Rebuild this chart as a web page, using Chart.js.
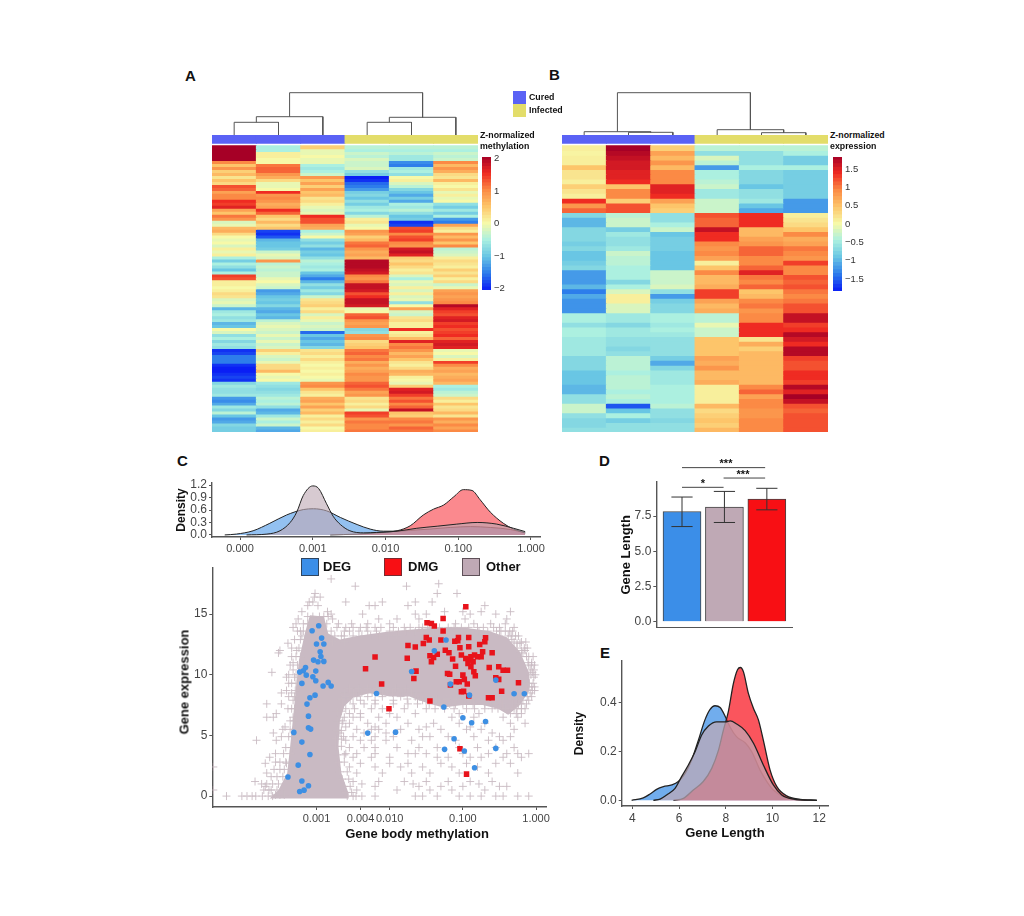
<!DOCTYPE html>
<html>
<head>
<meta charset="utf-8">
<title>Methylation and expression panels</title>
<script src="https://cdn.jsdelivr.net/npm/chart.js@4"></script>
<style>
  body { margin: 0; background: #fff; width: 1024px; height: 916px; position: relative; overflow: hidden;
         font-family: "Liberation Sans", Arial, sans-serif; }
  canvas { position: absolute; }
  .txt { position: absolute; white-space: nowrap; color: #111; font-weight: bold; line-height: 1; }
  .swatch { position: absolute; box-sizing: border-box; }
</style>
</head>
<body>
<script>
// ---- panel A heatmap, one list per column, top row first
const heatA1 = [2,2,2,2,2,1,.5,.9,.4,.6,.2,.5,.3,1.3,1.2,.8,1,1,1.5,1.4,1.6,.8,.5,1.1,.9,-.2,-.1,.6,.7,.3,0,-.1,0,-.2,.1,-.1,.1,-.5,-.9,-.5,-.7,-1,-.5,1.4,1.3,.1,.1,0,.1,.3,.2,-.2,-.1,-.3,-1.1,-.6,-.5,-.7,-.6,-1.1,-1,0,-.2,-.7,-.5,-.8,-.6,-.7,-1.9,-1.8,-1.5,-1.5,-1.5,-1.9,-2,-2,-1.9,-1.8,-1.9,-.8,-.6,-.7,-.7,-.6,-1.3,-1.4,-1.2,-.6,-.8,-.4,-1,-1.3,-1.2,-.8,-.9,-.9];
const heatA2 = [-.5,-.5,.1,.1,0,0,1.1,1.2,1.2,.9,.7,.3,-.1,-.1,0,1.5,.9,1,.9,.7,.8,1.5,1.2,.5,.3,.6,.3,.5,-1.8,-1.9,-1.7,-1.1,-1,-1,-.9,-.3,-.1,-.2,.9,-.4,-.3,-.4,-.3,-.3,-.1,0,-.2,-.3,-1.3,-1.2,-1,-.9,-1,-.8,-1.1,-1.2,-1,-1.1,-.4,-.2,-.1,-.2,-.3,-.1,-.3,-.1,-.3,-.2,.4,.1,-.2,-.3,-.1,.3,.3,.6,0,-.1,0,-.6,-.7,-.8,-.7,-.6,-.4,-.5,-.4,-.7,-1.2,-1.1,-.6,-.3,-.5,-.3,-1.1,-1.2];
const heatA3 = [.4,-.1,-.1,0,-.1,-.1,-.5,-.6,-.5,-.3,.9,.5,.8,.4,.8,.5,.6,.2,.3,.1,-.1,-.2,-.1,1.5,1.3,1.3,.8,.7,-.5,-.3,0,-.7,-.9,-.7,-1.1,-.9,-1,-.7,-.4,-.5,-.6,-.5,-1,-1.2,-1.5,-1.1,-.7,-.9,-.6,-.8,-.3,.2,.3,.4,.1,.3,-.2,.1,-.1,-.3,-.2,-.3,-1.6,-1,-1.2,-1,-1.1,-.8,.2,.3,.1,.3,.1,0,.1,0,.1,0,-.1,.9,1,.5,.2,.1,.7,.8,.5,.8,.4,.6,.1,.3,.1,.3,0,.1];
const heatA4 = [-.4,-.5,-.3,-.4,-.2,-.3,-.3,-.2,-.7,-.9,-2,-1.9,-1.6,-1.5,-1.3,-.9,-.8,-1,-.7,-.9,-.6,-.5,-.8,-.4,.1,.2,-.1,0,.9,.8,.4,.6,1.1,1.2,.9,.7,.8,.6,1.9,1.9,1.9,1.8,1.7,1,.9,1.1,1.8,1.8,1.7,1.3,1.5,1.8,1.8,1.7,-.1,0,1.2,1.3,.9,.8,.9,-.8,-.7,.9,1,.3,.4,.5,1.1,1.2,1,1.1,.7,.9,.7,.8,1,.9,.9,1.2,1.3,1.1,.8,.9,.2,.3,.1,.3,-.1,1.4,1.3,.9,1.1,1,1,1.1];
const heatA5 = [-.4,-.5,-.4,-.6,-.6,-1.4,-1.5,-.6,-.5,-.7,0,.1,-.2,-.4,-.8,-1,-1.2,-.9,-1.2,-.5,-.6,-.4,-.7,-1,-.9,-1.9,-1.8,1.3,1.4,1,1.3,1.4,1,.9,1.7,1.8,1.6,.4,.3,.5,.3,.1,.2,-.2,-.5,-.1,-.2,.1,-.2,.1,-.2,-.1,-.7,0,.8,-.2,-.3,.2,.3,.1,.1,1.5,.1,.2,.6,1.6,1,1.1,.9,.6,.8,.5,.2,.1,.3,.7,.6,.1,0,-.1,.4,1.6,1.7,1.4,1.1,1.3,1,1.2,1.8,.5,.4,1,1.1,.9,1.2,1.1];
const heatA6 = [-.4,-.5,-.3,-.4,-.3,1,.6,.9,.7,.3,.2,.6,.1,0,.2,-.1,.1,-.1,0,-.7,-.9,-.6,-.9,-.5,-1.3,-1.5,.8,.3,.1,.9,.6,.9,.5,1,-.4,-.3,-.2,.1,.3,.2,.1,.4,.2,.4,.1,.3,-.3,-.1,.8,.9,.8,.9,1,1.9,1.6,1.4,1.3,1.6,1.7,1.4,1.5,1.3,1.4,1.5,1.2,1.6,1.7,1.6,-.1,0,-.2,.1,1.4,1,.7,.8,.6,.7,.8,.6,-.5,-.6,-.4,-.3,.3,.1,.5,.2,.3,.6,.2,.9,.7,1,.8,1];

// ---- panel B heatmap
const heatB1 = [.1,.05,.1,.1,.5,.2,.2,.1,.4,.2,.1,1.5,.9,1.2,-.8,-1.1,-1.1,-.8,-.8,-.8,-.9,-.8,-1,-1,-.9,-.8,-1.3,-1.3,-1.3,-1.1,-1.5,-1.2,-1.35,-1.35,-1.35,-.5,-.5,-.7,-.5,-.5,-.6,-.6,-.6,-.6,-.8,-.8,-.8,-1,-1,-1,-1.1,-1.1,-.7,-.7,-.3,-.3,-.7,-.8,-.8,-.7];
const heatB2 = [2,1.9,1.8,1.7,1.7,1.6,1.6,1.5,.5,1,1,.4,1.3,1.3,-.4,-.3,-.3,-.9,-.6,-.7,-.7,-.6,-.3,-.4,-.4,-.5,-.5,-.5,-.8,-.5,-.2,.1,.1,-.2,-.2,-.6,-.6,-.8,-.6,-.6,-.7,-.7,-.8,-.7,-.4,-.4,-.4,-.5,-.4,-.4,-.4,-.5,-.4,-.5,-1.7,-1,-.5,-.9,-.7,-.7];
const heatB3 = [.4,.8,.6,.9,.6,1,1,1,1.6,1.6,1.5,.8,.5,.4,-.7,-.7,-.5,-.3,-1,-.9,-.9,-.9,-1,-1,-1,-1,-.3,-.3,-.3,-.2,-.7,-1.3,-.9,-.8,-.8,-.5,-.5,-.6,-.5,-.6,-.7,-.7,-.7,-.7,-.9,-1.2,-.8,-.6,-.6,-.6,-.5,-.5,-.5,-.5,-.4,-.7,-.7,-.8,-.7,-.7];
const heatB4 = [-.4,-.7,-.2,-.4,-1.3,-.5,-.5,-.4,-.3,-.6,-.6,-.3,-.3,-.3,1.3,1.2,1.2,1.8,1.5,1.5,1,.9,1,.8,.1,.5,1,.6,.6,.7,1.4,1.4,.8,.6,.7,-.4,-.4,-.1,-.3,-.3,.5,.5,.5,.5,.8,.7,.9,.6,.6,.7,.1,.1,.1,.1,.6,.3,.4,.5,.4,.6];
const heatB5 = [-.4,-.7,-.7,-.7,-.5,-.8,-.8,-.8,-1,-.7,-.7,-.6,-1,-1.2,1.5,1.5,1.5,.6,.6,.8,.9,1.2,1.2,1,1,1.2,1.6,1.1,1,1.2,.5,.6,1,1.1,.9,1,1,1.5,1.5,1.5,.2,.7,.4,.6,.6,.6,.6,.6,.6,.6,1,1.2,.8,1,1,.9,.9,1,1,1];
const heatB6 = [-.4,-.5,-.9,-.9,-.5,-.9,-.9,-.9,-.9,-.9,-.9,-1.3,-1.3,-1.3,.1,.2,.3,.5,1,.7,.8,1.1,1,.9,1.4,1,1,1.3,1.2,1.3,1.1,1,1.1,1.3,1.3,1.8,1.8,1.4,1.5,1.9,1.7,1.5,1.9,1.9,1.4,1.3,1.3,1.5,1.5,1.4,1.9,1.6,2,1.8,1.3,1.2,1.3,1.3,1.3,1.3];

// colour bars and their tick labels
const barStopsA = [-2,-1.9,-1.8,-1.7,-1.6,-1.5,-1.4,-1.3,-1.2,-1.1,-1,-.9,-.8,-.7,-.6,-.5,-.4,-.3,-.2,-.1,0,.1,.2,.3,.4,.5,.6,.7,.8,.9,1,1.1,1.2,1.3,1.4,1.5,1.6,1.7,1.8,1.9,2];
const barStopsB = [-1.8,-1.7,-1.6,-1.5,-1.4,-1.3,-1.2,-1.1,-1,-.9,-.8,-.7,-.6,-.5,-.4,-.3,-.2,-.1,0,.1,.2,.3,.4,.5,.6,.7,.8,.9,1,1.1,1.2,1.3,1.4,1.5,1.6,1.7,1.8];
const barTicksA = [-2,-1,0,1,2];
const barTicksB = [-1.5,-1,-.5,0,.5,1,1.5];

// dendrograms: each branch is [x1,h1, x2,h2, x3,h3, x4,h4] in column units
const dendroA = [[1.75,18.3,1.75,42.3,4.75,42.3,4.75,17.7],[1,12.7,1,18.3,2.5,18.3,2.5,0],[.5,0,.5,12.7,1.5,12.7,1.5,0],[4,12.7,4,17.7,5.5,17.7,5.5,0],[3.5,0,3.5,12.7,4.5,12.7,4.5,0]];
const dendroB = [[1.25,3.3,1.25,42.3,4.25,42.3,4.25,5.3],[.5,0,.5,3.3,2,3.3,2,2.7],[1.5,0,1.5,2.7,2.5,2.7,2.5,0],[3.5,0,3.5,5.3,5,5.3,5,2.3],[4.5,0,4.5,2.3,5.5,2.3,5.5,0]];

// ---- panel C top: densities over log10 methylation
const cTicksX = [-4,-3,-2,-1,0];
const cTicksY = [0,.3,.6,.9,1.2];
const degDensX = [-4.21,-4.05,-3.82,-3.59,-3.36,-3.13,-2.99,-2.81,-2.62,-2.39,-2.21,-2.03,-1.84,-1.66,-1.39,-1.11,-.83,-.56,-.28,-.08];
const degDensY = [0,.02,.1,.28,.48,.61,.63,.58,.42,.25,.14,.09,.09,.11,.14,.18,.2,.18,.13,.05];
const otherDensX = [-3.91,-3.63,-3.45,-3.31,-3.22,-3.13,-3,-2.92,-2.81,-2.72,-2.62,-2.49,-2.3,-2.12,-1.84,-1.57,-1.29,-1.02,-.74,-.47,-.24,-.08];
const otherDensY = [0,.02,.1,.3,.55,.95,1.18,1.12,.75,.45,.25,.1,.05,.06,.09,.16,.21,.26,.3,.26,.16,.08];
const dmgDensX = [-2.76,-2.39,-2.12,-1.84,-1.66,-1.48,-1.34,-1.2,-1.06,-.93,-.81,-.7,-.56,-.38,-.24,-.08];
const dmgDensY = [0,.02,.05,.1,.22,.48,.62,.72,.92,1.09,1.07,.85,.55,.28,.14,.05];

// ---- panel C scatter: x is log10 methylation, y is expression
const scatterTicksX = [-3,-2.398,-2,-1,0];
const scatterTicksY = [0,5,10,15];
const degPoints = [[-2.97,14.04],[-3.06,13.63],[-2.93,13.02],[-2.9,12.53],[-3,12.53],[-2.95,11.9],[-2.94,11.51],[-3.04,11.21],[-2.98,11.07],[-2.9,11.1],[-3.01,10.3],[-3.15,10.6],[-3.18,10.33],[-3.23,10.22],[-3.14,9.97],[-3.05,9.84],[-3.01,9.51],[-3.2,9.29],[-2.91,9.07],[-2.84,9.37],[-2.8,9.07],[-3.02,8.32],[-3.09,8.1],[-3.13,7.58],[-3.11,6.59],[-3.11,5.63],[-3.08,5.52],[-3.31,5.25],[-3.2,4.45],[-3.09,3.43],[-3.25,2.55],[-3.39,1.57],[-3.2,1.24],[-3.23,.38],[-3.17,.49],[-3.11,.85],[-2.18,8.46],[-2.3,5.19],[-1.92,5.27],[-1.7,10.27],[-1.39,11.98],[-1.23,12.86],[-1.17,9.23],[-.91,8.32],[-1.26,7.34],[-1,6.46],[-.88,6.04],[-.69,6.15],[-1.12,4.73],[-1.25,3.85],[-.98,3.71],[-.55,3.93],[-.84,2.34],[-.55,9.56],[-.3,8.43],[-.16,8.43]];
const dmgPoints = [[-.96,15.6],[-1.27,14.64],[-1.49,14.29],[-1.43,14.23],[-1.39,14.01],[-1.27,13.6],[-1.3,12.86],[-1.5,13.08],[-1.46,12.86],[-1.54,12.58],[-1.75,12.42],[-1.65,12.28],[-1.11,12.77],[-1.06,13.08],[-1.07,12.8],[-.92,13.08],[-.69,13.05],[-.7,12.72],[-.77,12.5],[-1.04,12.23],[-.92,12.31],[-1.24,12.03],[-1.19,11.81],[-1.45,11.57],[-1.4,11.43],[-1.35,11.7],[-1.43,11.07],[-1.02,11.62],[-1.14,11.29],[-.73,11.9],[-.6,11.81],[-1.76,11.37],[-2.2,11.46],[-2.33,10.49],[-1.64,10.3],[-1.67,9.7],[-2.11,9.23],[-1.1,10.71],[-1.21,10.11],[-1.18,10.05],[-.89,11.48],[-.84,11.62],[-.8,11.48],[-.75,11.48],[-.91,11.21],[-.86,11.07],[-.93,10.93],[-.89,10.66],[-.85,10.25],[-.83,9.92],[-1,9.97],[-.98,9.62],[-1.09,9.42],[-1.05,9.42],[-.94,9.23],[-1.02,8.6],[-.99,8.63],[-.64,10.6],[-.51,10.66],[-.45,10.38],[-.39,10.38],[-.55,9.75],[-.51,9.62],[-.24,9.34],[-.47,8.65],[-.65,8.1],[-.6,8.1],[-1.45,7.83],[-2.01,7.2],[-.92,8.24],[-1.04,3.9],[-.95,1.81],[-1.17,9.15],[-.96,11.35]];
// the solid core of the grey cloud, outline
const coreX = [-3.09,-2.9,-2.84,-2.68,-2.45,-2.09,-1.73,-1.36,-1,-.64,-.4,-.22,-.09,-.09,-.22,-.38,-.52,-.73,-1,-1.27,-1.5,-1.73,-2,-2.27,-2.5,-2.62,-2.68,-2.7,-2.66,-2.56,-2.56,-3.64,-3.52,-3.4,-3.36,-3.32,-3.28,-3.24,-3.16];
const coreY = [14.9,14.8,13.4,12.9,13.2,13.5,13.7,13.9,13.9,13.6,13.1,11.9,10.1,8.7,7.5,6.7,7.2,7.5,7.5,7.3,7.7,8.2,8.2,8.5,8.1,7.4,6.2,4.1,1.9,.2,-.2,-.2,.5,1.9,4.1,6.5,9,11.2,13.4];
// the loose crosses, grouped by expression: [y, x, x, ...]
const otherRows = [
  [17.9,-2.8],[17.5,-1.33],[17.3,-2.47,-1.77],[16.7,-3.02,-1.35,-1.08],[16.4,-3.03,-2.95],[16,-3.05,-2.6,-2.1,-1.65,-1.42,-3.1],
  [15.7,-2.2,-2.28,-1.75,-.7,-3.12,-2.98],[15.2,-2.85,-.35,-1,-1.25,-.75,-3.2],[15,-2.37,-1.5,-1.65,-.9,-.55,-2.8],[14.8,-3.12,-3.05,-2.96,-2.9,-2.84],[14.6,-2.15,-1.9,-.97,-1.6,-.4,-2.78,-3.25],
  [14.2,-2.52,-2.3,-1.45,-.62,-.42,-2,-1.1,-.85,-2.7,-3.28,-3.18,-3.12,-2.86],[13.9,-2.6,-2.2,-1.8,-1.2,-.8,-.3,-3.32,-1.55,-2.4,-2.72,-2.5,-2.32,-2.12,-1.95,-1.72,-1.6,-1.48,-1.32,-1.12,-1.02,-.92,-.72,-.58,-.5],
  [13.6,-2.55,-2.3,-2,-1.65,-.48,-.32,-3.22,-2.8,-2.62,-2.42,-2.18,-1.88,-1.78,-1.56,-1.4,-1.2,-1.08,-.94,-.78,-.66,-.54,-.42,-.36,-3.26,-3.18],
  [13.2,-3.2,-.28,-.38,-2.62,-2.75,-2.66,-2.5,-2.38,-2.26,-2.14,-2.02,-1.9,-.5,-.34,-.24],[12.9,-3.3,-.33,-3.22],[12.7,-2.78,-2.62,-.3,-.2,-.14],[12.6,-3.39,-.22,-.26],[12.2,-3.34,-3.24,-.26,-.16,-.12],[12,-3.5,-3.27,-.2,-.15],[11.8,-3.52,-.18],[11.5,-3.34,-.13,-3.28,-3.22,-.2,-.1,-.04],
  [11,-.11,-3.32,-.06],[10.8,-3.36,-3.26,-.1,-.02,-.06],[10.4,-3.32,-.08,-.03],[10.2,-3.61,-.05],[10,-3.38,-3.28,-.07,-.01],[9.8,-3.41,-.03,-3.3],[9.3,-.04,-.09,-3.38,-3.34,-3.28],[9,-.1,-.02,-.06],[8.9,-2.55,-2.42,-2.3,-2.18,-2.06,-1.92,-1.78],[8.7,-3.41,-.05,-.02,-3.29],
  [8.5,-3.48,-3.34,-.08,-2.62,-2.5,-2.38,-2.24,-2.1,-1.96,-1.82,-1.7,-1.58],[8.2,-2.6,-2.45,-2.3,-2.1,-1.85,-1.65,-.12,-.06,-3.38,-3.3],[8,-2.66,-2.54,-1.76,-1.62,-1.5,-1.36,-1.22,-1.08,-.96,-.82,-.62,-.48,-.34,-.24],
  [7.9,-2.4,-2.2,-1.95,-1.55,-1.4,-.9,-.7,-.18,-.1,-3.32],[7.6,-3.68,-3.48,-2.65,-2.5,-2.35,-2.2,-1.95,-1.75,-1.3,-1.1,-.55,-.2,-.13,-1.62,-1.46,-1.18,-1,-.86,-.7,-.46,-.32,-.24],
  [7.2,-2.6,-2.48,-2.25,-2.1,-1.8,-1.25,-.95,-.6,-.3,-.15,-3.39,-3.34,-3.3,-1.5,-1.38,-1.12,-.84,-.7,-.52,-.42,-.2,-.26],[7,-2.72,-2.66],[6.8,-3.55,-2.55,-2.4,-2,-1.65,-1.05,-.78,-.35,-.27,-.2],[6.5,-3.68,-3.59,-3.32,-2.62,-2.5,-2.4,-2.15,-1.9,-1.15,-.85,-.45,-.25],
  [6.2,-3.36,-3.3,-2.72,-2.64],[6,-2.65,-2.55,-2.3,-2.05,-1.75,-1.4,-1.05,-.7,-.35,-.15],[5.7,-3.43,-2.6,-2.2,-1.5,-.9],[5.5,-2.45,-2.25,-2.15,-1.85,-1.6,-1.3,-.95,-.75,-.3,-3.36,-3.3,-3.46],[5.4,-2.72,-2.66],[5.2,-3.59,-2.68,-2.35,-2.05,-.6],[4.9,-3.34,-2.63,-2.5,-2.2,-1.95,-1.55,-1.45,-1.2,-.85,-.5,-.35,-3.38,-3.48],[4.7,-2.74,-2.66],
  [4.6,-3.82,-3.55,-2.6,-2.4,-2.25,-2.05,-1.7,-1.1,-.65,-.45],[4.1,-2.74,-2.66],[4,-2.55,-2.35,-2.2,-1.9,-1.6,-1.35,-1.05,-.8,-.55,-.3,-3.42,-3.34],[3.5,-3.45,-2.6,-2.45,-2.2,-1.75,-1.65,-1.5,-1,-.65,-.4,-.25,-.1,-3.36,-3.56],[3.4,-2.72,-2.62],
  [3.2,-3.64,-2.5,-2.25,-2,-1.35,-1.2,-.9,-.75,-.45,-.2],[2.8,-3.5,-3.42,-3.56,-2.7,-2.62],[2.7,-3.7,-3.41,-2.4,-2,-1.75,-1.3,-.95,-.55,-.35],[2.4,-4.41,-2.55,-2.2,-1.85,-1.55,-1.15,-.8],[2.2,-3.58,-3.5,-3.44],[2,-2.68,-2.58],[1.9,-3.68,-2.45,-2.1,-1.7,-1.45,-1.05,-.65,-.25],[1.6,-3.62,-3.54,-3.46],[1.4,-2.65,-2.56],
  [1.2,-3.84,-2.5,-2.15,-1.8,-1.5,-1.2,-.9,-.6],[1,-3.75,-2.38,-1.68,-.78,-3.68,-3.6,-3.52],[.8,-3.7,-2.2,-1.6,-1.3,-1,-.5,-.4,-2.62,-2.54],[.5,-4.41,-3.65,-2.45,-1.9,-1.45,-1.15,-.7,-3.72,-3.62,-3.54],[.3,-2.6,-2.52],[.1,-3.56,-3.5,-3.44],
  [0,-4.23,-4.02,-3.95,-3.88,-3.83,-3.74,-3.66,-3.6,-1.65,-1.55,-1.35,-1.05,-.9,-.75,-.55,-.45,-.25,-.1,-2.5,-2.2,-2.58,-2.46,-2.38]
];

// ---- panel D bars
const barX = [0,1,2];
const barMeans = [7.83,8.14,8.71];
const barLow = [6.76,7.05,7.95];
const barHigh = [8.86,9.26,9.48];
const barColors = ['#3b8ee8','#bfa9b5','#f80f14'];
const dTicksY = [0,2.5,5,7.5];
const sigBrackets = [[0,.98,9.55],[.98,1.96,10.21],[0,1.96,10.95]];

// ---- panel E densities over gene length
const eTicksX = [4,6,8,10,12];
const eTicksY = [0,.2,.4];
const degLenX = [3.97,4.47,4.76,5.04,5.33,5.69,5.97,6.26,6.54,6.83,7.11,7.33,7.54,7.76,8,8.19,8.47,8.83,9.11,9.47,9.76,10.04,10.47,10.9,11.9];
const degLenY = [0,.01,.026,.045,.056,.063,.077,.11,.165,.247,.33,.373,.388,.381,.34,.3,.26,.236,.2,.124,.077,.042,.015,.004,0];
const otherLenX = [4.9,5.19,5.47,5.83,6.11,6.4,6.69,6.97,7.26,7.61,8,8.19,8.47,8.83,9.19,9.61,10.04,10.4,10.9,11.9];
const otherLenY = [0,.005,.022,.049,.097,.145,.2,.268,.305,.322,.322,.326,.313,.286,.234,.145,.063,.022,.005,0];
const dmgLenX = [5.76,6.19,6.61,7.04,7.4,7.69,7.9,8.11,8.33,8.51,8.63,8.76,8.97,9.19,9.4,9.61,9.9,10.19,10.61,11.19,11.9];
const dmgLenY = [0,.008,.042,.077,.131,.206,.288,.363,.48,.537,.545,.527,.439,.377,.33,.247,.124,.056,.018,.004,0];

const DEG_BLUE = 'rgba(58,142,230,0.55)';
const DMG_RED = 'rgba(248,20,30,0.5)';
const OTHER_GREY = 'rgba(191,169,181,0.62)';
const CLOUD = '#c9bac3';
const AXIS = '#555';
const TICK = '#444';
const CURED = '#5a62f5';
const INFECTED = '#e3dd6a';

Chart.defaults.font.family = '"Liberation Sans", Arial, sans-serif';
Chart.defaults.animation = false;
Chart.defaults.responsive = false;
Chart.defaults.plugins.legend.display = false;
Chart.defaults.plugins.tooltip.enabled = false;
Chart.defaults.devicePixelRatio = 1;

const colorStops = [
  [-2,[10,30,245]],[-1.5,[45,125,235]],[-1,[105,198,228]],[-.5,[172,240,224]],[0,[247,249,168]],
  [.5,[253,197,106]],[1,[251,138,69]],[1.5,[239,43,34]],[2,[166,0,38]]
];

function heatColor(v, range) {
  const z = Math.max(-2, Math.min(2, v / range * 2));
  for (let i = 1; i < colorStops.length; i++) {
    if (z <= colorStops[i][0]) {
      const [z0, c0] = colorStops[i - 1];
      const [z1, c1] = colorStops[i];
      const t = (z - z0) / (z1 - z0);
      return `rgb(${c0.map((c, k) => Math.round(c + (c1[k] - c) * t)).join(',')})`;
    }
  }
  return 'rgb(166,0,38)';
}

function addCanvas(left, top, width, height) {
  const canvas = document.createElement('canvas');
  canvas.width = width;
  canvas.height = height;
  canvas.style.left = left + 'px';
  canvas.style.top = top + 'px';
  canvas.style.width = width + 'px';
  canvas.style.height = height + 'px';
  document.body.appendChild(canvas);
  return canvas;
}

function addText(text, x, y, size, extra) {
  const el = document.createElement('div');
  el.className = 'txt';
  el.textContent = text;
  el.style.left = x + 'px';
  el.style.top = y + 'px';
  el.style.fontSize = size + 'px';
  if (extra) Object.assign(el.style, extra);
  document.body.appendChild(el);
}

function addSwatch(x, y, w, h, color, border) {
  const el = document.createElement('div');
  el.className = 'swatch';
  el.style.cssText = `left:${x}px;top:${y}px;width:${w}px;height:${h}px;background:${color};` + (border ? `border:1px solid ${border};` : '');
  document.body.appendChild(el);
}

// keep the plot area where it was asked to be
function fixSize(size) {
  return s => {
    if (s.isHorizontal()) s.height = size; else s.width = size;
    s.paddingLeft = s.paddingRight = s.paddingTop = s.paddingBottom = 0;
  };
}

function setTicks(values) {
  return s => { s.ticks = values.map(value => ({ value })); };
}

function zip(xs, ys) {
  return xs.map((x, i) => ({ x, y: ys[i] }));
}

function axisOpts(size, min, max, ticks, fontSize, callback) {
  return {
    min, max,
    afterFit: fixSize(size),
    afterBuildTicks: setTicks(ticks),
    border: { color: AXIS, width: 1.4 },
    grid: { display: true, drawOnChartArea: false, drawTicks: true, tickLength: 3, color: AXIS },
    ticks: { color: TICK, font: { size: fontSize }, padding: 2, autoSkip: false, maxRotation: 0, callback }
  };
}

function curve(xs, ys, fillColor, lineWidth) {
  return {
    data: zip(xs, ys), showLine: true, fill: 'origin', backgroundColor: fillColor,
    borderColor: '#222', borderWidth: lineWidth || 1, pointRadius: 0, tension: 0.4, cubicInterpolationMode: 'monotone'
  };
}

// stacked bars with one dataset per row give the heat cells
function drawHeatmap(columns, left, right, gapRows, stripRows) {
  const labels = columns.map((c, i) => 'S' + (i + 1));
  const datasets = [
    { data: labels.map(() => stripRows), backgroundColor: [CURED, CURED, CURED, INFECTED, INFECTED, INFECTED] },
    { data: labels.map(() => gapRows), backgroundColor: 'rgba(0,0,0,0)' }
  ];
  columns[0].forEach((_, row) => {
    datasets.push({ data: labels.map(() => 1), backgroundColor: columns.map(c => heatColor(c[row], 2)) });
  });
  new Chart(addCanvas(left, 135, right - left, 297), {
    type: 'bar',
    data: { labels, datasets },
    options: {
      datasets: { bar: { barPercentage: 1, categoryPercentage: 1, borderWidth: 0, inflateAmount: 0.45 } },
      scales: {
        x: { stacked: true, display: false },
        y: { stacked: true, display: false, reverse: true, min: 0, max: columns[0].length + gapRows + stripRows }
      }
    }
  });
}

function drawDendro(branches, left, right) {
  new Chart(addCanvas(left, 90, right - left, 45), {
    type: 'scatter',
    data: {
      datasets: branches.map(b => ({
        data: [0, 2, 4, 6].map(i => ({ x: b[i], y: b[i + 1] })),
        showLine: true, borderColor: '#555', borderWidth: 1, pointRadius: 0
      }))
    },
    options: { scales: { x: { display: false, min: 0, max: 6 }, y: { display: false, min: 0, max: 45 } } }
  });
}

function drawColorbar(stops, ticks, limit, left, top, bottom) {
  const labels = ['z'];
  new Chart(addCanvas(left, top - 8, 40, bottom - top + 16), {
    type: 'bar',
    data: {
      labels,
      datasets: stops.map(v => ({ data: [[v - 0.05, v + 0.05]], backgroundColor: heatColor(v, limit) }))
    },
    options: {
      layout: { padding: { top: 8, bottom: 8 } },
      datasets: { bar: { barPercentage: 1, categoryPercentage: 1, grouped: false, borderWidth: 0, inflateAmount: 0.45 } },
      scales: {
        x: { display: false },
        y: {
          position: 'right', min: -limit, max: limit,
          afterFit: fixSize(31),
          afterBuildTicks: setTicks(ticks),
          border: { display: false },
          grid: { display: false, drawTicks: false },
          ticks: { color: '#333', font: { size: 9.5 }, padding: 3, autoSkip: false, callback: v => String(v).replace('-', '\u2212') }
        }
      }
    }
  });
}

// ---- A and B
drawHeatmap([heatA1, heatA2, heatA3, heatA4, heatA5, heatA6], 212, 478, 0.8, 2.79);
drawHeatmap([heatB1, heatB2, heatB3, heatB4, heatB5, heatB6], 562, 828, 0.5, 1.74);
drawDendro(dendroA, 212, 478);
drawDendro(dendroB, 562, 828);
drawColorbar(barStopsA, barTicksA, 2.04, 482, 157, 290);
drawColorbar(barStopsB, barTicksB, 1.83, 833, 157, 291);

addText('A', 185, 68, 15);
addText('B', 549, 67, 15);
addText('C', 177, 453, 15);
addText('D', 599, 453, 15);
addText('E', 600, 645, 15);
addSwatch(513, 91, 13, 12.5, CURED);
addSwatch(513, 103.5, 13, 13, INFECTED);
addText('Cured', 529, 93, 8.8);
addText('Infected', 529, 106, 8.8);
addText('Z-normalized', 480, 131, 8.8);
addText('methylation', 480, 142, 8.8);
addText('Z-normalized', 830, 131, 8.8);
addText('expression', 830, 142, 8.8);

// ---- C top density
const log3 = v => Math.pow(10, v).toFixed(3);
new Chart(addCanvas(174, 475, 386, 85), {
  type: 'scatter',
  data: {
    datasets: [
      curve(otherDensX, otherDensY, OTHER_GREY),
      curve(dmgDensX, dmgDensY, DMG_RED),
      curve(degDensX, degDensY, DEG_BLUE)
    ]
  },
  options: {
    layout: { padding: { top: 8, right: 20 } },
    scales: {
      x: axisOpts(23, -4.385, 0.124, cTicksX, 11, log3),
      y: Object.assign(axisOpts(38, -0.05, 1.25, cTicksY, 12, v => v.toFixed(1)), {
        title: { display: true, text: 'Density', color: '#111', font: { size: 12, weight: 'bold' }, padding: 0 }
      })
    }
  }
});

// legend for C
addSwatch(301, 558, 18, 18, '#3b8ee8', '#2f4560');
addText('DEG', 323, 560, 13);
addSwatch(384, 558, 18, 18, '#f80f14', '#7a2a30');
addText('DMG', 408, 560, 13);
addSwatch(462, 558, 18, 18, '#bfa9b5', '#5e5058');
addText('Other', 486, 560, 13);

// ---- C scatter
const looseOther = [];
otherRows.forEach(row => row.slice(1).forEach(x => looseOther.push({ x, y: row[0] })));
const toPoints = list => list.map(p => ({ x: p[0], y: p[1] }));

new Chart(addCanvas(170, 560, 396, 270), {
  type: 'scatter',
  data: {
    datasets: [
      { data: toPoints(degPoints), pointStyle: 'circle', pointRadius: 2.8, backgroundColor: '#3d8fe3', borderWidth: 0 },
      { data: toPoints(dmgPoints), pointStyle: 'rect', pointRadius: 3.9, backgroundColor: '#e8131b', borderWidth: 0 },
      { data: looseOther, pointStyle: 'cross', pointRadius: 4, borderColor: '#c9bbc3', borderWidth: 0.9, backgroundColor: '#c9bbc3' },
      { data: zip(coreX, coreY), showLine: true, fill: 'shape', backgroundColor: CLOUD, borderColor: CLOUD, borderWidth: 0, pointRadius: 0, tension: 0 }
    ]
  },
  options: {
    layout: { padding: { top: 8, right: 20 } },
    scales: {
      x: axisOpts(23, -4.424, 0.136, scatterTicksX, 11, log3),
      y: axisOpts(42.3, -0.9, 18.8, scatterTicksY, 12, v => String(v))
    }
  }
});
addText('Gene expression', 184, 682, 13, { transform: 'translate(-50%,-50%) rotate(-90deg)' });
addText('Gene body methylation', 417, 833, 13, { transform: 'translate(-50%,-50%)' });

// ---- D bars
const errorSets = [];
barX.forEach((x, i) => {
  const segs = [
    [[x, barLow[i]], [x, barHigh[i]]],
    [[x - 0.25, barLow[i]], [x + 0.25, barLow[i]]],
    [[x - 0.25, barHigh[i]], [x + 0.25, barHigh[i]]]
  ];
  segs.forEach(seg => errorSets.push({
    type: 'scatter', data: toPoints(seg), showLine: true, borderColor: '#333', borderWidth: 1, pointRadius: 0, clip: false
  }));
});
const bracketSets = sigBrackets.map(b => ({
  type: 'scatter', data: [{ x: b[0], y: b[2] }, { x: b[1], y: b[2] }], showLine: true, borderColor: '#444', borderWidth: 1, pointRadius: 0, clip: false
}));

new Chart(addCanvas(619, 451, 184, 177), {
  type: 'bar',
  data: {
    datasets: errorSets.concat(bracketSets, [{
      data: zip(barX, barMeans), backgroundColor: barColors, borderColor: '#444', borderWidth: 1, barThickness: 38
    }])
  },
  options: {
    layout: { padding: { top: 30.7, right: 10.7 } },
    scales: {
      x: {
        type: 'linear', offset: false, min: -0.606, max: 2.6,
        afterFit: fixSize(0),
        border: { color: AXIS, width: 1.4 },
        grid: { display: false },
        ticks: { display: false }
      },
      y: Object.assign(axisOpts(37.3, -0.45, 9.95, dTicksY, 12, v => v.toFixed(1)), {
        title: { display: true, text: 'Gene Length', color: '#111', font: { size: 13, weight: 'bold' }, padding: 0 }
      })
    }
  }
});
addText('***', 726, 463, 11, { transform: 'translate(-50%,-50%)' });
addText('***', 743, 474, 11, { transform: 'translate(-50%,-50%)' });
addText('*', 703, 483, 11, { transform: 'translate(-50%,-50%)' });

// ---- E densities
new Chart(addCanvas(572, 653, 270, 188), {
  type: 'scatter',
  data: {
    datasets: [
      curve(otherLenX, otherLenY, 'rgba(191,169,181,0.72)', 1.3),
      curve(dmgLenX, dmgLenY, 'rgba(248,20,30,0.72)', 1.3),
      curve(degLenX, degLenY, 'rgba(58,142,230,0.72)', 1.3)
    ]
  },
  options: {
    layout: { padding: { top: 8, right: 14 } },
    scales: {
      x: Object.assign(axisOpts(35, 3.545, 12.38, eTicksX, 12, v => String(v)), {
        title: { display: true, text: 'Gene Length', color: '#111', font: { size: 13, weight: 'bold' }, padding: 0 }
      }),
      y: Object.assign(axisOpts(49.7, -0.0234, 0.5716, eTicksY, 12, v => v.toFixed(1)), {
        title: { display: true, text: 'Density', color: '#111', font: { size: 12, weight: 'bold' }, padding: 0 }
      })
    }
  }
});
</script>
</body>
</html>
